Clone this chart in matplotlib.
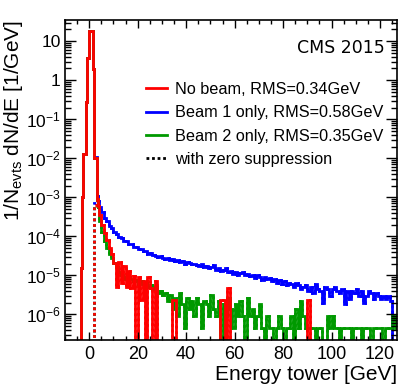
import numpy as np
import matplotlib.pyplot as plt
from matplotlib.lines import Line2D
from matplotlib.ticker import MultipleLocator, LogLocator, FuncFormatter, NullFormatter

plt.rcParams['font.family'] = ['Liberation Sans', 'DejaVu Sans']
plt.rcParams['mathtext.fontset'] = 'custom'
plt.rcParams['mathtext.rm'] = 'Liberation Sans'
plt.rcParams['mathtext.it'] = 'Liberation Sans:italic'

# bin edges [GeV]: 1 GeV bins, 0.5 GeV bins around the pedestal
edges = np.concatenate([np.arange(-10, -4), np.arange(-4, 4, 0.5), np.arange(4, 128)])
n_lead = 6  # empty bins from -10 to -4

# fine bins -4 .. 4 GeV (0.5 GeV wide)
red_peak = [0, 1.5e-5, 1e-3, 1.3e-2, 1.3e-2, 0.27, 3.7, 3.7, 18, 18, 18, 1.9, 1e-2, 1e-2, 9e-4, 6e-4]
blue_peak = [0, 1.5e-5, 1e-3, 1.3e-2, 1.3e-2, 0.27, 3.7, 3.7, 18, 18, 18, 1.9, 1e-2, 1.1e-2, 1.1e-3, 8e-4]
green_peak = [0, 1.5e-5, 1e-3, 1.3e-2, 1.3e-2, 0.27, 3.7, 3.7, 18, 18, 18, 1.9, 1e-2, 1e-2, 9e-4, 5.5e-4]
# same bins with zero suppression
red_zs_peak = [0] * 12 + [6.5e-4, 6.5e-4, 9e-4, 6e-4]
blue_zs_peak = [0] * 12 + [7e-4, 7e-4, 1.1e-3, 8e-4]
green_zs_peak = [0] * 12 + [6e-4, 6e-4, 9e-4, 5.5e-4]

# 1 GeV bins from 4 to 127 GeV, units of 1e-6 / GeV
red_tail = [350, 200, 125, 80, 50, 35, 21, 5, 22, 6.5,
            17, 5, 13, 4.7, 9.5, 0, 9, 2.4, 7, 0,
            9, 4.7, 0, 7, 0, 0, 0, 0, 0, 0,
            2.4, 2.4, 0, 0, 0, 0, 0, 0, 0, 0,
            0, 0, 0, 0, 0, 0, 0, 0, 0, 0,
            2.4, 2.4, 0, 4.7, 0, 0, 0, 0, 0, 0,
            0, 0, 0, 0, 0, 0, 0, 0, 0, 0,
            0, 0, 0, 0, 0, 0, 0, 0, 0, 0,
            0, 0, 0, 0, 0, 0, 2.4, 0, 0, 0,
            0, 0, 0, 0, 0, 0, 0, 0, 0, 0,
            0, 0, 0, 0, 0, 0, 0, 0, 0, 0,
            0, 0, 0, 0, 0, 0, 0, 0, 0, 0,
            0, 0, 0]
blue_tail = [560, 410, 300, 245, 185, 160, 128, 118, 98, 90,
             78, 74, 64, 62, 54, 53, 47, 46, 41, 42,
             36, 37, 33, 31, 30, 32, 27, 26, 28, 25,
             26, 23, 24, 22, 23, 20, 22, 21, 19, 20,
             18, 17, 19, 16, 17, 15, 16, 18, 14, 15,
             13, 14, 15, 12, 13, 11, 12, 10.5, 11.5, 12,
             10, 11, 9.5, 10.5, 8.5, 10, 9, 7.5, 9, 8,
             8.5, 7, 8, 6.5, 7.5, 6, 7, 5.5, 6.5, 6,
             5, 6.5, 5.5, 4.5, 5, 5.5, 4, 5, 3.5, 6,
             4.5, 4, 2, 5, 4.5, 3, 4.5, 5, 4, 3.5,
             4.5, 1.8, 4, 2.5, 4, 3.5, 4.5, 3, 4, 2,
             3, 4, 3.5, 2.5, 3.5, 3, 2.5, 3, 2.5, 3,
             2.2, 0, 0]
green_tail = [250, 130, 75, 50, 36, 28, 21, 16, 12, 10,
              8, 9, 9, 8, 7, 7.5, 6, 7, 6, 6.5,
              5, 5.5, 4.5, 5, 3.6, 4, 3.2, 3.6, 2.2, 3.2,
              1.35, 2.7, 0.9, 3.6, 1.8, 0.45, 2.7, 1.35, 2.2, 0.9,
              2.7, 1.8, 0.45, 2.2, 1.8, 0.9, 3.2, 1.35, 0.9, 2.2,
              0, 1.8, 0.9, 2.7, 1.35, 0.45, 1.8, 0.9, 2.2, 0.9,
              0, 2.7, 0.9, 1.35, 0.45, 0.9, 1.8, 0.45, 0, 0.9,
              0.45, 0.45, 0, 0.45, 0.9, 0.45, 0, 0.45, 0.45, 0.9,
              0, 1.35, 0.45, 2.2, 0.9, 0.45, 0.45, 0.45, 0.45, 0,
              0.45, 0.45, 0, 0, 0.9, 0.45, 0.9, 0.45, 0.45, 0,
              0.45, 0.45, 0.45, 0.45, 0, 0.45, 0.45, 0.45, 0, 0.45,
              0.45, 0.45, 0, 0.45, 0.45, 0.45, 0.45, 0, 0.45, 0.45,
              0.45, 0.9, 0.45]

labels = ['No beam, RMS=0.34GeV', 'Beam 1 only, RMS=0.58GeV',
          'Beam 2 only, RMS=0.35GeV', 'with zero suppression']
colors = ['#ff0000', '#0000ff', '#009900']


def hist(peak, tail):
    v = np.concatenate([np.zeros(n_lead), peak, np.array(tail) * 1e-6])
    return np.where(v > 0, v, 1e-10)  # empty bins drawn on the floor


fig = plt.figure(figsize=(4.07, 3.92), dpi=100)
ax = fig.add_axes([65 / 407, 1 - 340 / 392, 332 / 407, 320 / 392])

series = [(blue_peak, blue_zs_peak, blue_tail, colors[1]),
          (green_peak, green_zs_peak, green_tail, colors[2]),
          (red_peak, red_zs_peak, red_tail, colors[0])]
for pk, zs, tl, c in series:
    ax.stairs(hist(zs, tl), edges, color=c, lw=2, ls=(0, (1, 1)), baseline=None)
for pk, zs, tl, c in series:
    ax.stairs(hist(pk, tl), edges, color=c, lw=2, baseline=None)

ax.set_yscale('log')
ax.set_xlim(-10, 127)
ax.set_ylim(2.2e-7, 35)

ax.xaxis.set_major_locator(MultipleLocator(20))
ax.xaxis.set_minor_locator(MultipleLocator(5))
ax.yaxis.set_major_locator(LogLocator(base=10, numticks=20))
ax.yaxis.set_minor_locator(LogLocator(base=10, subs=np.arange(2, 10), numticks=20))
ax.yaxis.set_minor_formatter(NullFormatter())


def ylab(v, pos):
    e = int(round(np.log10(v)))
    if e == 0:
        return '1'
    if e == 1:
        return '10'
    return r'$10^{%d}$' % e


ax.yaxis.set_major_formatter(FuncFormatter(ylab))
ax.tick_params(which='both', direction='in', top=True, right=True, width=1)
ax.tick_params(axis='x', which='major', length=6, pad=4, labelsize=13)
ax.tick_params(axis='x', which='minor', length=3)
ax.tick_params(axis='y', which='major', length=8, pad=3, labelsize=12.5)
ax.tick_params(axis='y', which='minor', length=4)
for s in ax.spines.values():
    s.set_linewidth(1.2)

fig.text(14 / 407, 1 - 20 / 392, r'1/N$_{\mathrm{evts}}$ dN/dE [1/GeV]', rotation=90,
         ha='center', va='top', fontsize=15)
fig.text(397 / 407, 1 - 374 / 392, 'Energy tower [GeV]', ha='right', va='center', fontsize=15)
fig.text(385 / 407, 1 - 48 / 392, 'CMS 2015', ha='right', va='center', fontsize=12.5,
         family='DejaVu Sans')

handles = [Line2D([], [], color=colors[0], lw=2),
           Line2D([], [], color=colors[1], lw=2),
           Line2D([], [], color=colors[2], lw=2),
           Line2D([], [], color='black', lw=2, ls=(0, (1, 1)))]
ax.legend(handles, labels, loc='upper left', bbox_to_anchor=(0.244, 0.806), frameon=False,
          fontsize=11.7, handlelength=1.3, handletextpad=0.5, labelspacing=0.51,
          borderpad=0, borderaxespad=0)

fig.savefig('out.png', dpi=100)
